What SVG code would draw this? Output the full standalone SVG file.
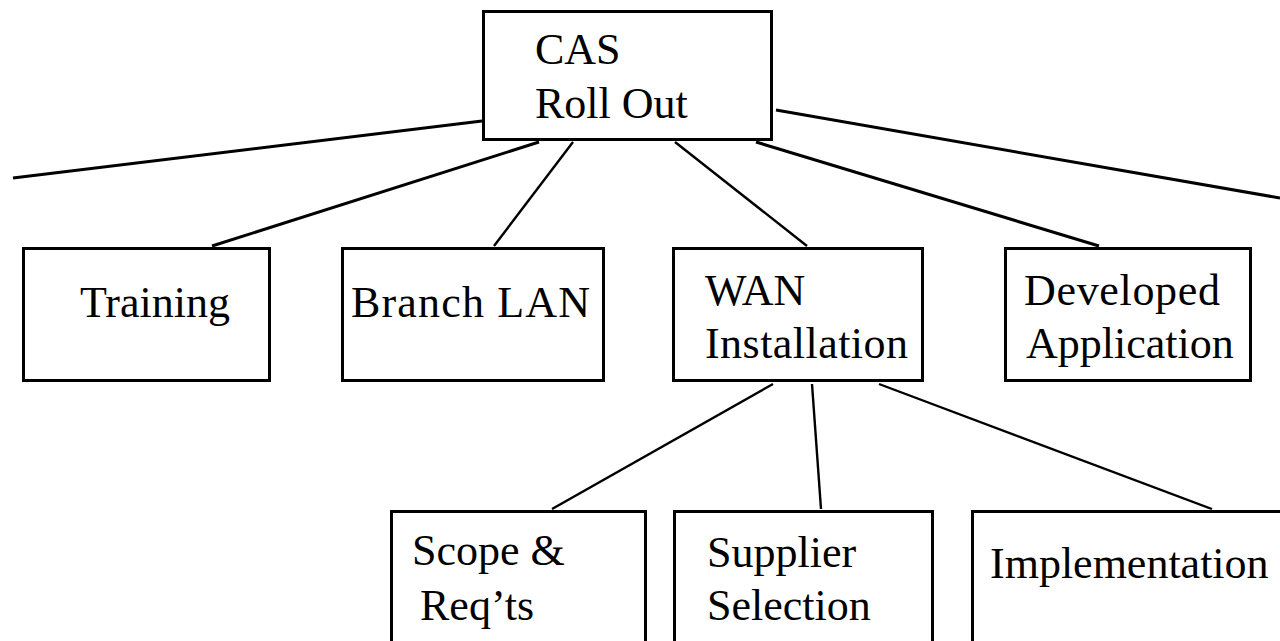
<svg xmlns="http://www.w3.org/2000/svg" width="1280" height="641" viewBox="0 0 1280 641">
  <style>
    .box { fill: #ffffff; stroke: #000000; stroke-width: 3; }
    .lbl { font-size: 44px; fill: #000000; }
    .link { stroke: #000000; stroke-width: 3; fill: none; }
    .thin { stroke-width: 2.4; }
  </style>
  <rect width="1280" height="641" fill="#ffffff"/>

  <!-- connectors -->
  <g id="connectors">
    <line class="link" x1="13" y1="178" x2="482" y2="121"/>
    <line class="link" x1="776" y1="110" x2="1280" y2="198"/>
    <line class="link" x1="539" y1="142" x2="212" y2="246"/>
    <line class="link thin" x1="573" y1="142" x2="494" y2="246"/>
    <line class="link thin" x1="675" y1="142" x2="807" y2="246"/>
    <line class="link" x1="756" y1="142" x2="1099" y2="246"/>
    <line class="link thin" x1="773" y1="384" x2="552" y2="509"/>
    <line class="link thin" x1="812" y1="384" x2="821" y2="509"/>
    <line class="link thin" x1="879" y1="384" x2="1212" y2="509"/>
  </g>

  <g font-family="Liberation Serif, DejaVu Serif, serif">
    <g id="cas-roll-out">
      <rect class="box" x="483.5" y="11.5" width="288" height="128"/>
      <text class="lbl" x="535" y="64">CAS</text>
      <text class="lbl" x="535" y="118">Roll Out</text>
    </g>

    <g id="training">
      <rect class="box" x="23.5" y="248.5" width="246" height="132"/>
      <text class="lbl" x="80" y="317">Training</text>
    </g>

    <g id="branch-lan">
      <rect class="box" x="342.5" y="248.5" width="261" height="132"/>
      <text class="lbl" x="351" y="317" textLength="239" lengthAdjust="spacing">Branch LAN</text>
    </g>

    <g id="wan-installation">
      <rect class="box" x="673.5" y="248.5" width="249" height="132"/>
      <text class="lbl" x="705" y="305">WAN</text>
      <text class="lbl" x="705" y="358" textLength="203" lengthAdjust="spacing">Installation</text>
    </g>

    <g id="developed-application">
      <rect class="box" x="1005.5" y="248.5" width="245" height="132"/>
      <text class="lbl" x="1024" y="305" textLength="196" lengthAdjust="spacing">Developed</text>
      <text class="lbl" x="1026" y="358">Application</text>
    </g>

    <g id="scope-reqts">
      <rect class="box" x="391.5" y="511.5" width="254" height="160"/>
      <text class="lbl" x="412" y="565">Scope &amp;</text>
      <text class="lbl" x="420" y="620">Req’ts</text>
    </g>

    <g id="supplier-selection">
      <rect class="box" x="674.5" y="511.5" width="258" height="160"/>
      <text class="lbl" x="707" y="567">Supplier</text>
      <text class="lbl" x="707" y="620">Selection</text>
    </g>

    <g id="implementation">
      <rect class="box" x="972.5" y="511.5" width="330" height="160"/>
      <text class="lbl" x="990" y="578">Implementation</text>
    </g>
  </g>
</svg>
